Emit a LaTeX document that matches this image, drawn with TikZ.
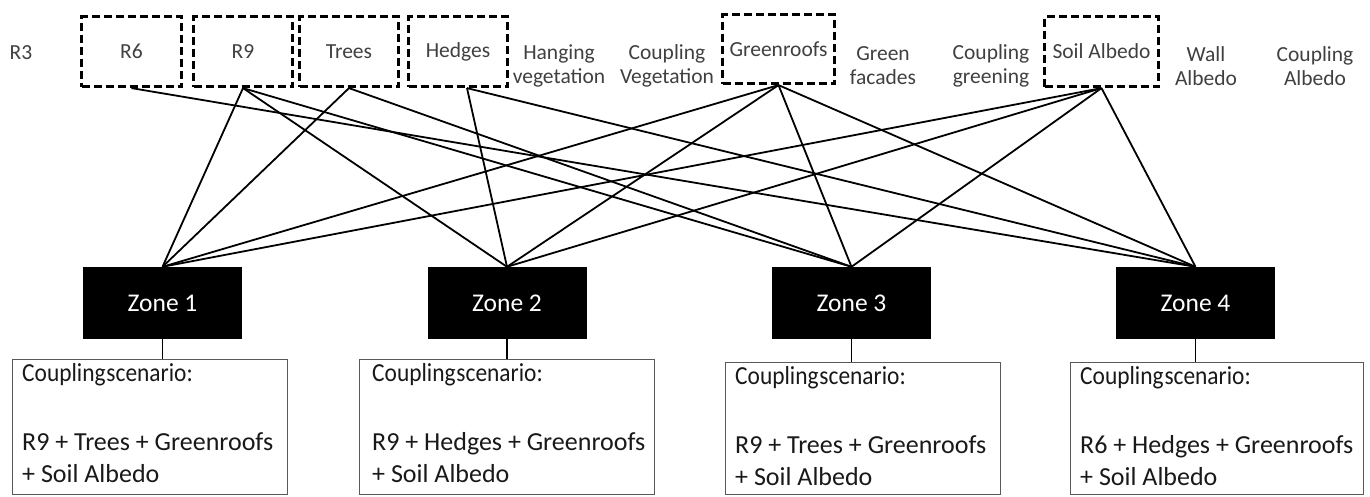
\documentclass[tikz,border=0pt]{standalone}
\usepackage{fontspec}
\usepackage{graphicx}
\setmainfont{Carlito}
\usetikzlibrary{calc}
\newcommand{\scenhead}{\scalebox{0.9}[1]{Coupling\hspace{1pt}scenario:}}
\begin{document}
\begin{tikzpicture}[x=1pt,y=-1pt,
  dbox/.style={draw=black, line width=3.2pt, dash pattern=on 8pt off 4pt,
    minimum height=70pt, inner sep=0pt, text=black!75,
    font=\fontsize{21.5}{24}\selectfont},
  toplab/.style={inner sep=0pt, align=center, text=black!75,
    font=\fontsize{21.5}{24}\selectfont},
  zbox/.style={fill=black, text=white, minimum width=159pt, minimum height=72pt,
    inner sep=0pt, font=\fontsize{25.5}{30}\selectfont},
  sbox/.style={draw=black!65, line width=1.3pt, inner sep=0pt, anchor=north west},
  stext/.style={inner sep=0pt, align=left, anchor=north west, text=black!90,
    font=\fontsize{26}{32}\selectfont},
  link/.style={draw=black, line width=1.8pt}]
\useasboundingbox[fill=white] (0,0) rectangle (1370,496);

% top labels
\node[toplab] (r3) at (21,53) {R3};
\node[dbox, minimum width=100pt] (r6) at (131.5,51.5) {R6};
\node[dbox, minimum width=99pt] (r9) at (243,51.5) {R9};
\node[dbox, minimum width=99pt] (trees) at (349,51.5) {Trees};
\node[dbox, minimum width=99pt] (hedges) at (458,51.5) {Hedges};
\node[toplab] (hang) at (559,66) {Hanging\\vegetation};
\node[toplab] (cveg) at (667,66) {Coupling\\Vegetation};
\node[dbox, minimum width=112pt, minimum height=69pt] (gr) at (778.5,49) {Greenroofs};
\node[toplab] (gfac) at (883,66) {Green\\facades};
\node[toplab] (cgreen) at (991,66) {Coupling\\greening};
\node[dbox, minimum width=114pt] (sa) at (1101.5,51.5) {Soil Albedo};
\node[toplab] (walb) at (1206,66) {Wall\\Albedo};
\node[toplab] (calb) at (1315,66) {Coupling\\Albedo};

% zones
\node[zbox] (z1) at (162.5,303) {Zone 1};
\node[zbox] (z2) at (507,303) {Zone 2};
\node[zbox] (z3) at (851.5,303) {Zone 3};
\node[zbox] (z4) at (1195.5,303) {Zone 4};

% scenario boxes
\node[sbox, minimum width=275pt, minimum height=135pt] (sc1) at (12,359) {};
\node[sbox, minimum width=295pt, minimum height=135pt] (sc2) at (359,359) {};
\node[sbox, minimum width=275pt, minimum height=132pt] (sc3) at (725,362) {};
\node[sbox, minimum width=293pt, minimum height=132pt] (sc4) at (1070,362) {};

\node[stext] (t1) at ($(sc1.north west)+(10,4)$) {\scenhead\\[37pt]R9 + Trees + Greenroofs\\+ Soil Albedo};
\node[stext] (t2) at ($(sc2.north west)+(13,4)$) {\scenhead\\[37pt]R9 + Hedges + Greenroofs\\+ Soil Albedo};
\node[stext] (t3) at ($(sc3.north west)+(10,4)$) {\scenhead\\[37pt]R9 + Trees + Greenroofs\\+ Soil Albedo};
\node[stext] (t4) at ($(sc4.north west)+(10,4)$) {\scenhead\\[37pt]R6 + Hedges + Greenroofs\\+ Soil Albedo};

% connectors
\draw[link] (r6.south) -- (z4.north);
\draw[link] (r9.south) -- (z1.north);
\draw[link] (r9.south) -- (z2.north);
\draw[link] (r9.south) -- (z3.north);
\draw[link] (trees.south) -- (z1.north);
\draw[link] (trees.south) -- (z3.north);
\draw[link] ([xshift=9pt]hedges.south) -- (z2.north);
\draw[link] ([xshift=9pt]hedges.south) -- (z4.north);
\foreach \z in {z1,z2,z3,z4}{
  \draw[link] (gr.south) -- (\z.north);
  \draw[link] (sa.south) -- (\z.north);
}
\draw[link] (z1.south) -- (z1.south |- sc1.north);
\draw[link] (z2.south) -- (z2.south |- sc2.north);
\draw[link] (z3.south) -- (z3.south |- sc3.north);
\draw[link] (z4.south) -- (z4.south |- sc4.north);
\end{tikzpicture}
\end{document}
